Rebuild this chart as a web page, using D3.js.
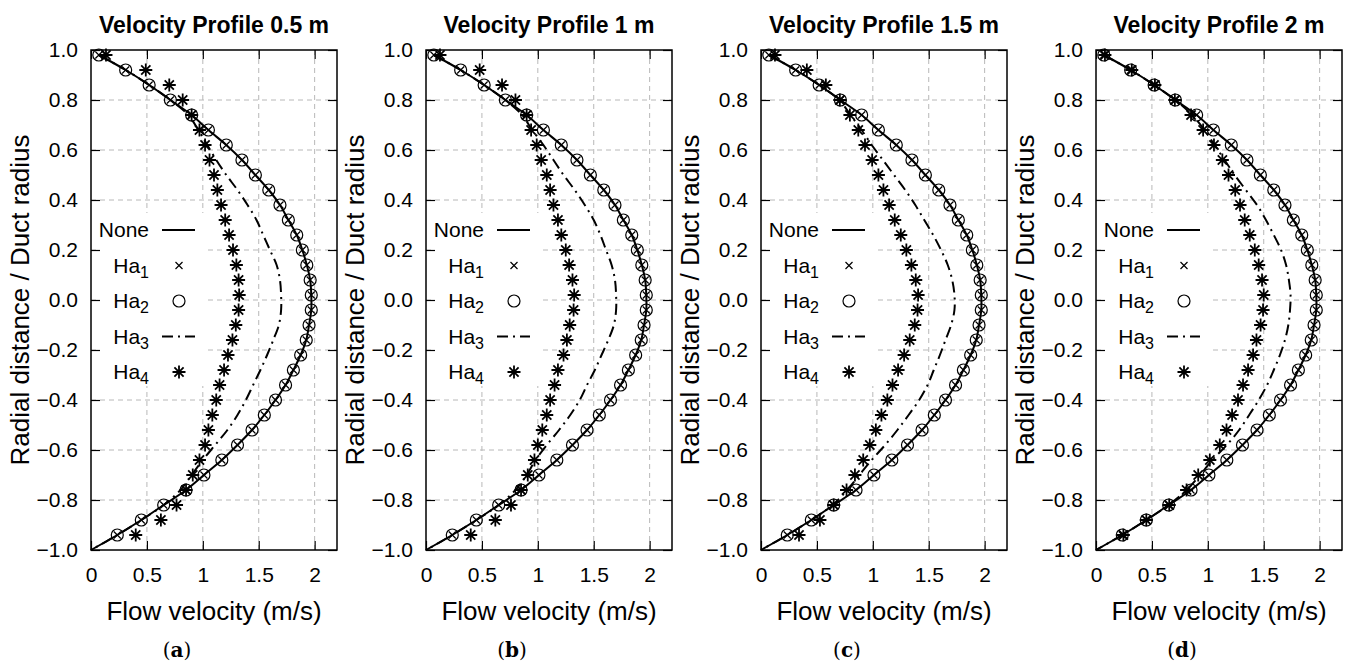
<!DOCTYPE html>
<html>
<head>
<meta charset="utf-8">
<script src="https://cdn.jsdelivr.net/npm/d3@7"></script>
<style>
  body { margin: 0; background: #fff; }
  svg text { font-family: "Liberation Sans", Arial, sans-serif; fill: #000; }
</style>
</head>
<body>
<svg id="chart" width="1345" height="664"></svg>
<script>
// Radial positions of the plotted markers (radial distance / duct radius)
const radial = [0.98, 0.92, 0.86, 0.80, 0.74, 0.68, 0.62, 0.56, 0.50, 0.44, 0.38,
  0.32, 0.26, 0.20, 0.14, 0.08, 0.02, -0.04, -0.10, -0.16, -0.22, -0.28, -0.34,
  -0.40, -0.46, -0.52, -0.58, -0.64, -0.70, -0.76, -0.82, -0.88, -0.94];
// the curves run down to the duct wall where velocity is zero
const wallRadius = -1.0;
const wallVelocity = 0;

// No field: same in every panel
const noneVelocity = [0.07, 0.31, 0.52, 0.71, 0.90, 1.05, 1.21, 1.35, 1.47, 1.59, 1.69,
  1.765, 1.84, 1.89, 1.93, 1.96, 1.97, 1.97, 1.95, 1.925, 1.875, 1.81, 1.74,
  1.65, 1.55, 1.44, 1.31, 1.17, 1.01, 0.85, 0.65, 0.45, 0.235];
// Ha1 crosses and Ha2 circles sit on the None curve
const ha1Velocity = noneVelocity;
const ha2Velocity = noneVelocity;

// Ha3 (dash-dot) per panel
const ha3A = [0.07, 0.31, 0.52, 0.71, 0.87, 0.96, 1.04, 1.12, 1.21, 1.31, 1.40,
  1.48, 1.54, 1.60, 1.66, 1.69, 1.70, 1.70, 1.68, 1.63, 1.575, 1.515, 1.45,
  1.385, 1.31, 1.22, 1.11, 1.00, 0.90, 0.80, 0.65, 0.45, 0.235];
const ha3B = [0.07, 0.31, 0.52, 0.71, 0.86, 0.95, 1.05, 1.14, 1.23, 1.33, 1.42,
  1.50, 1.56, 1.61, 1.66, 1.69, 1.70, 1.70, 1.68, 1.63, 1.57, 1.51, 1.44,
  1.375, 1.29, 1.19, 1.08, 0.98, 0.90, 0.80, 0.65, 0.45, 0.235];
const ha3C = [0.07, 0.31, 0.52, 0.70, 0.80, 0.90, 0.99, 1.09, 1.19, 1.29, 1.38,
  1.46, 1.54, 1.61, 1.67, 1.71, 1.73, 1.73, 1.70, 1.65, 1.60, 1.545, 1.49,
  1.415, 1.32, 1.22, 1.11, 0.99, 0.88, 0.77, 0.64, 0.45, 0.235];
const ha3D = [0.07, 0.31, 0.52, 0.71, 0.86, 0.97, 1.06, 1.15, 1.24, 1.34, 1.44,
  1.52, 1.59, 1.655, 1.70, 1.725, 1.74, 1.735, 1.72, 1.69, 1.645, 1.59, 1.53,
  1.455, 1.37, 1.28, 1.17, 1.04, 0.93, 0.81, 0.65, 0.45, 0.235];

// Ha4 (asterisks) per panel
const ha4A = [0.134, 0.49, 0.70, 0.82, 0.90, 0.97, 1.02, 1.06, 1.10, 1.13, 1.163,
  1.20, 1.235, 1.27, 1.30, 1.32, 1.325, 1.32, 1.295, 1.265, 1.225, 1.19, 1.15,
  1.12, 1.085, 1.05, 1.02, 0.97, 0.91, 0.85, 0.765, 0.625, 0.40];
const ha4B = [0.125, 0.48, 0.68, 0.80, 0.90, 0.94, 0.99, 1.03, 1.08, 1.11, 1.14,
  1.18, 1.21, 1.25, 1.28, 1.31, 1.325, 1.32, 1.285, 1.26, 1.23, 1.18, 1.15,
  1.11, 1.08, 1.04, 1.00, 0.97, 0.91, 0.85, 0.76, 0.62, 0.40];
const ha4C = [0.125, 0.41, 0.58, 0.705, 0.795, 0.87, 0.93, 0.994, 1.05, 1.095, 1.146,
  1.196, 1.25, 1.30, 1.345, 1.384, 1.405, 1.40, 1.375, 1.33, 1.28, 1.226, 1.176,
  1.13, 1.077, 1.027, 0.973, 0.914, 0.84, 0.765, 0.65, 0.527, 0.34];
const ha4D = [0.08, 0.32, 0.527, 0.705, 0.85, 0.958, 1.055, 1.13, 1.185, 1.245, 1.288,
  1.33, 1.375, 1.42, 1.455, 1.485, 1.50, 1.494, 1.472, 1.435, 1.405, 1.36, 1.315,
  1.27, 1.217, 1.167, 1.107, 1.018, 0.914, 0.81, 0.655, 0.45, 0.245];

const titles = ["Velocity Profile 0.5 m", "Velocity Profile 1 m", "Velocity Profile 1.5 m", "Velocity Profile 2 m"];
const captions = ["a", "b", "c", "d"];
const xTicks = [0, 0.5, 1, 1.5, 2];
const yTicks = [-1, -0.8, -0.6, -0.4, -0.2, 0, 0.2, 0.4, 0.6, 0.8, 1];
const legendLabels = [["None", ""], ["Ha", "1"], ["Ha", "2"], ["Ha", "3"], ["Ha", "4"]];

const panels = [
  {title: titles[0], caption: captions[0], ha3: ha3A, ha4: ha4A},
  {title: titles[1], caption: captions[1], ha3: ha3B, ha4: ha4B},
  {title: titles[2], caption: captions[2], ha3: ha3C, ha4: ha4C},
  {title: titles[3], caption: captions[3], ha3: ha3D, ha4: ha4D}
];

// layout
const plotW = 246, plotH = 500, plotTop = 50, firstLeft = 91, step = 335;
const dashDot = "11,5,2,5";

const svg = d3.select("#chart");

const asterisk = "M-6.5,0H6.5M0,-6.5V6.5M-4.6,-4.6L4.6,4.6M-4.6,4.6L4.6,-4.6";
const cross = "M-3.5,-3.5L3.5,3.5M-3.5,3.5L3.5,-3.5";

panels.forEach((p, i) => {
  const left = firstLeft + i * step;
  const x = d3.scaleLinear().domain([0, 2.2]).range([left, left + plotW]);
  const y = d3.scaleLinear().domain([-1, 1]).range([plotTop + plotH, plotTop]);
  const g = svg.append("g");

  // grid
  g.append("g").selectAll("line").data(xTicks.filter(d => d > 0))
    .join("line")
    .attr("x1", d => x(d)).attr("x2", d => x(d))
    .attr("y1", plotTop).attr("y2", plotTop + plotH)
    .attr("stroke", "#b8b8b8").attr("stroke-dasharray", "5,4");
  g.append("g").selectAll("line").data(yTicks.filter(d => d > -1 && d < 1))
    .join("line")
    .attr("x1", left).attr("x2", left + plotW)
    .attr("y1", d => y(d)).attr("y2", d => y(d))
    .attr("stroke", "#b8b8b8").attr("stroke-dasharray", "5,4");

  // legend background (opaque key)
  g.append("rect")
    .attr("x", left + 6).attr("y", plotTop + 163)
    .attr("width", 107).attr("height", 173)
    .attr("fill", "#fff");

  const pts = vals => radial.map((r, k) => ({r: r, v: vals[k]}));
  const line = d3.line().x(d => x(d.v)).y(d => y(d.r)).curve(d3.curveCatmullRom);
  const withWall = vals => pts(vals).concat([{r: wallRadius, v: wallVelocity}]);

  // None curve
  g.append("path").attr("d", line(withWall(noneVelocity)))
    .attr("fill", "none").attr("stroke", "#000").attr("stroke-width", 2);
  // Ha3 dash-dot
  g.append("path").attr("d", line(withWall(p.ha3)))
    .attr("fill", "none").attr("stroke", "#000").attr("stroke-width", 2)
    .attr("stroke-dasharray", dashDot);

  // Ha1 crosses
  g.append("g").selectAll("path").data(pts(ha1Velocity)).join("path")
    .attr("transform", d => `translate(${x(d.v)},${y(d.r)})`)
    .attr("d", cross).attr("stroke", "#000").attr("stroke-width", 1.2);
  // Ha2 circles
  g.append("g").selectAll("circle").data(pts(ha2Velocity)).join("circle")
    .attr("cx", d => x(d.v)).attr("cy", d => y(d.r)).attr("r", 6)
    .attr("fill", "none").attr("stroke", "#000").attr("stroke-width", 1.2);
  // Ha4 asterisks
  g.append("g").selectAll("path").data(pts(p.ha4)).join("path")
    .attr("transform", d => `translate(${x(d.v)},${y(d.r)})`)
    .attr("d", asterisk).attr("stroke", "#000").attr("stroke-width", 1.8);

  // axes, ticks inward and mirrored
  const fmtY = d3.format(".1f");
  const fmtX = d3.format("~g");
  const ax = [
    g.append("g").attr("transform", `translate(${left},0)`)
      .call(d3.axisLeft(y).tickValues(yTicks).tickFormat(fmtY).tickSizeInner(-9).tickSizeOuter(0).tickPadding(13)),
    g.append("g").attr("transform", `translate(${left + plotW},0)`)
      .call(d3.axisRight(y).tickValues(yTicks).tickFormat("").tickSizeInner(-9).tickSizeOuter(0)),
    g.append("g").attr("transform", `translate(0,${plotTop + plotH})`)
      .call(d3.axisBottom(x).tickValues(xTicks).tickFormat(fmtX).tickSizeInner(-9).tickSizeOuter(0).tickPadding(17)),
    g.append("g").attr("transform", `translate(0,${plotTop})`)
      .call(d3.axisTop(x).tickValues(xTicks).tickFormat("").tickSizeInner(-9).tickSizeOuter(0))
  ];
  ax.forEach(a => {
    a.select(".domain").remove();
    a.selectAll("line").attr("stroke", "#000").attr("stroke-width", 1.2);
    a.selectAll("text").style("font-size", "21px").attr("fill", "#000")
      .style("font-family", "'Liberation Sans', Arial, sans-serif");
  });

  // frame
  g.append("rect").attr("x", left).attr("y", plotTop).attr("width", plotW).attr("height", plotH)
    .attr("fill", "none").attr("stroke", "#000").attr("stroke-width", 1.5);

  // legend
  const ly = k => plotTop + 180 + k * 35.5;
  legendLabels.forEach((lab, k) => {
    const t = g.append("text").attr("x", left + 58).attr("y", ly(k) + 7)
      .attr("text-anchor", "end").style("font-size", "21px");
    t.append("tspan").text(lab[0]);
    if (lab[1]) t.append("tspan").attr("dy", 5).style("font-size", "16px").text(lab[1]);
  });
  g.append("line").attr("x1", left + 71).attr("x2", left + 104)
    .attr("y1", ly(0)).attr("y2", ly(0)).attr("stroke", "#000").attr("stroke-width", 2);
  g.append("path").attr("transform", `translate(${left + 88},${ly(1)})`)
    .attr("d", cross).attr("stroke", "#000").attr("stroke-width", 1.2);
  g.append("circle").attr("cx", left + 88).attr("cy", ly(2)).attr("r", 6)
    .attr("fill", "none").attr("stroke", "#000").attr("stroke-width", 1.2);
  g.append("line").attr("x1", left + 71).attr("x2", left + 104)
    .attr("y1", ly(3)).attr("y2", ly(3)).attr("stroke", "#000").attr("stroke-width", 2)
    .attr("stroke-dasharray", dashDot);
  g.append("path").attr("transform", `translate(${left + 88},${ly(4)})`)
    .attr("d", asterisk).attr("stroke", "#000").attr("stroke-width", 1.8);

  // titles and labels
  g.append("text").attr("x", left + plotW / 2).attr("y", 33)
    .attr("text-anchor", "middle").style("font-size", "23px").style("font-weight", "bold")
    .text(p.title);
  g.append("text").attr("x", left + plotW / 2).attr("y", 620)
    .attr("text-anchor", "middle").style("font-size", "26px")
    .text("Flow velocity (m/s)");
  g.append("text").attr("transform", `translate(${left - 62},${plotTop + plotH / 2}) rotate(-90)`)
    .attr("text-anchor", "middle").style("font-size", "26px")
    .text("Radial distance / Duct radius");

  const cap = g.append("text").attr("x", left + 86).attr("y", 657)
    .attr("text-anchor", "middle")
    .style("font-family", "'DejaVu Serif', 'Liberation Serif', serif").style("font-size", "20px");
  cap.append("tspan").text("(");
  cap.append("tspan").style("font-weight", "bold").text(p.caption);
  cap.append("tspan").text(")");
});
</script>
</body>
</html>
